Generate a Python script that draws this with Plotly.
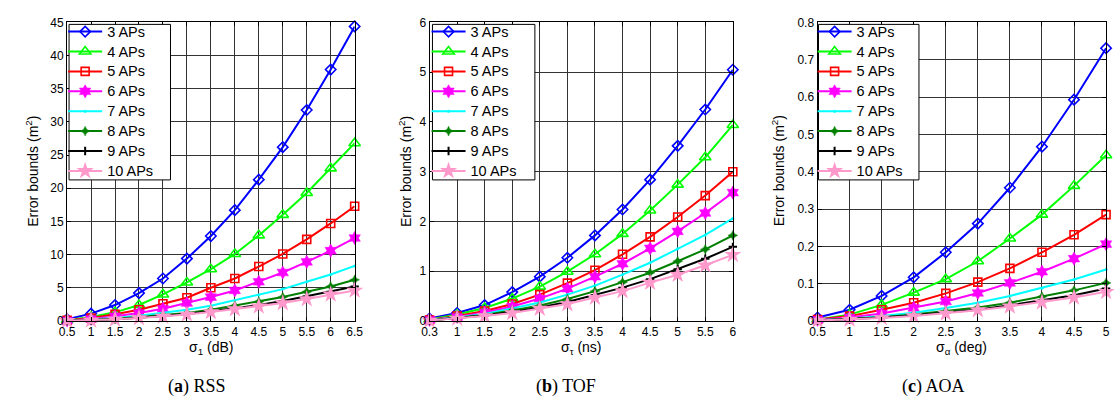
import plotly.graph_objects as go

# x categories for each panel
rss_sigma = ["0.5", "1", "1.5", "2", "2.5", "3", "3.5", "4", "4.5", "5", "5.5", "6", "6.5"]
tof_sigma = ["0.3", "1", "1.5", "2", "2.5", "3", "3.5", "4", "4.5", "5", "5.5", "6"]
aoa_sigma = ["0.5", "1", "1.5", "2", "2.5", "3", "3.5", "4", "4.5", "5"]

series_names = ["3 APs", "4 APs", "5 APs", "6 APs", "7 APs", "8 APs", "9 APs", "10 APs"]

# (a) RSS error bounds (m^2)
rss_3 = [0.25, 1.1, 2.4, 4.2, 6.4, 9.4, 12.8, 16.7, 21.3, 26.2, 31.8, 37.9, 44.4]
rss_4 = [0.15, 0.6, 1.3, 2.4, 4.0, 5.8, 7.8, 10.1, 12.9, 16.0, 19.3, 23.0, 26.8]
rss_5 = [0.1, 0.45, 1.0, 1.7, 2.6, 3.5, 5.0, 6.4, 8.2, 10.1, 12.3, 14.7, 17.3]
rss_6 = [0.07, 0.3, 0.7, 1.2, 1.85, 2.7, 3.6, 4.6, 5.9, 7.3, 8.9, 10.6, 12.5]
rss_7 = [0.05, 0.2, 0.45, 0.8, 1.2, 1.7, 2.3, 3.1, 3.9, 4.8, 5.9, 7.0, 8.3]
rss_8 = [0.04, 0.15, 0.33, 0.6, 0.9, 1.2, 1.7, 2.3, 2.9, 3.6, 4.4, 5.2, 6.2]
rss_9 = [0.03, 0.12, 0.27, 0.47, 0.75, 1.05, 1.45, 1.9, 2.4, 3.0, 3.7, 4.4, 5.2]
rss_10 = [0.03, 0.1, 0.25, 0.43, 0.68, 0.98, 1.35, 1.8, 2.2, 2.7, 3.3, 4.0, 4.6]

# (b) TOF error bounds (m^2)
tof_3 = [0.05, 0.16, 0.32, 0.58, 0.89, 1.27, 1.72, 2.24, 2.84, 3.52, 4.25, 5.05]
tof_4 = [0.03, 0.13, 0.26, 0.45, 0.69, 0.99, 1.34, 1.75, 2.22, 2.74, 3.29, 3.94]
tof_5 = [0.02, 0.1, 0.2, 0.34, 0.53, 0.76, 1.02, 1.34, 1.69, 2.09, 2.52, 3.0]
tof_6 = [0.02, 0.08, 0.17, 0.29, 0.45, 0.65, 0.89, 1.15, 1.46, 1.8, 2.17, 2.58]
tof_7 = [0.02, 0.07, 0.14, 0.25, 0.37, 0.53, 0.71, 0.93, 1.17, 1.45, 1.73, 2.06]
tof_8 = [0.01, 0.06, 0.12, 0.21, 0.31, 0.44, 0.6, 0.78, 0.97, 1.2, 1.44, 1.72]
tof_9 = [0.01, 0.06, 0.11, 0.18, 0.27, 0.38, 0.52, 0.67, 0.84, 1.04, 1.25, 1.49]
tof_10 = [0.01, 0.05, 0.1, 0.16, 0.25, 0.34, 0.47, 0.6, 0.77, 0.93, 1.12, 1.33]

# (c) AOA error bounds (m^2)
aoa_3 = [0.009, 0.03, 0.067, 0.117, 0.184, 0.261, 0.357, 0.467, 0.593, 0.731]
aoa_4 = [0.004, 0.017, 0.043, 0.076, 0.112, 0.16, 0.221, 0.285, 0.362, 0.444]
aoa_5 = [0.004, 0.013, 0.03, 0.049, 0.074, 0.104, 0.141, 0.184, 0.231, 0.285]
aoa_6 = [0.003, 0.009, 0.02, 0.035, 0.052, 0.075, 0.102, 0.132, 0.167, 0.206]
aoa_7 = [0.002, 0.006, 0.013, 0.022, 0.035, 0.049, 0.067, 0.088, 0.111, 0.138]
aoa_8 = [0.002, 0.006, 0.01, 0.017, 0.026, 0.036, 0.049, 0.065, 0.082, 0.102]
aoa_9 = [0.001, 0.004, 0.009, 0.015, 0.022, 0.03, 0.042, 0.055, 0.069, 0.087]
aoa_10 = [0.001, 0.004, 0.008, 0.013, 0.02, 0.029, 0.039, 0.05, 0.063, 0.078]

# line colour and marker style per AP count
styles = [
    dict(color="#0000ff", symbol="diamond-open", size=8, mlw=1.6),
    dict(color="#00ff00", symbol="triangle-up-open", size=10, mlw=1.6),
    dict(color="#ff0000", symbol="square-open", size=8, mlw=1.6),
    dict(color="#ff00ff", symbol="hexagram", size=10, mlw=0.5),
    dict(color="#00ffff", symbol="circle", size=3, mlw=0),
    dict(color="#008000", symbol="star-diamond", size=7, mlw=0.5),
    dict(color="#000000", symbol="cross-thin-open", size=6, mlw=2),
    dict(color="#ff99cc", symbol="star", size=13, mlw=0),
]

W, H = 1120, 412
FONT = "Liberation Sans, Arial, sans-serif"

panels = [
    dict(x=rss_sigma, ys=[rss_3, rss_4, rss_5, rss_6, rss_7, rss_8, rss_9, rss_10],
         px=(60, 352), yrange=[0, 45], dtick=5, box=(62, 165),
         xtitle="σ<sub>1</sub> (dB)", caption="(<b>a</b>) RSS", cap_x=192, ylab_x=25),
    dict(x=tof_sigma, ys=[tof_3, tof_4, tof_5, tof_6, tof_7, tof_8, tof_9, tof_10],
         px=(428, 736), yrange=[0, 6], dtick=1, box=(431, 535),
         xtitle="σ<sub>τ</sub> (ns)", caption="(<b>b</b>) TOF", cap_x=567, ylab_x=403),
    dict(x=aoa_sigma, ys=[aoa_3, aoa_4, aoa_5, aoa_6, aoa_7, aoa_8, aoa_9, aoa_10],
         px=(822, 1115), yrange=[0, 0.8], dtick=0.1, box=(823, 925),
         xtitle="σ<sub>α</sub> (deg)", caption="(<b>c</b>) AOA", cap_x=940, ylab_x=782),
]

plot_top, plot_bottom = 16, 325
box_top, box_bottom = 18, 179
ydom = [1 - plot_bottom / H, 1 - plot_top / H]

fig = go.Figure()
layout = dict(
    width=W, height=H,
    margin=dict(l=0, r=0, t=0, b=0),
    paper_bgcolor="white", plot_bgcolor="white",
    font=dict(family=FONT, size=12, color="black"),
    annotations=[], shapes=[],
)

for i, p in enumerate(panels):
    k = "" if i == 0 else str(i + 1)
    legend_id = "legend" + k
    for name, y, st in zip(series_names, p["ys"], styles):
        fig.add_trace(go.Scatter(
            x=p["x"], y=y, mode="lines+markers",
            # row spacing follows the legend font; entry text a little larger
            name=f'<span style="font-size:14.5px">{name}</span>',
            xaxis="x" + k, yaxis="y" + k, legend=legend_id,
            cliponaxis=False,
            line=dict(color=st["color"], width=2),
            marker=dict(symbol=st["symbol"], size=st["size"], color=st["color"],
                        line=dict(color=st["color"], width=st["mlw"])),
        ))
    x0, x1 = p["px"]
    axis_common = dict(
        showline=True, linecolor="black", linewidth=1, mirror="ticks",
        ticks="inside", ticklen=4, tickcolor="black",
        showgrid=True, gridcolor="#333333", gridwidth=1,
        zeroline=False, tickfont=dict(family=FONT, size=12, color="black"),
    )
    layout["xaxis" + k] = dict(
        axis_common, domain=[x0 / W, x1 / W], anchor="y" + k,
        type="category", range=[0, len(p["x"]) - 1],
    )
    layout["yaxis" + k] = dict(
        axis_common, domain=ydom, anchor="x" + k,
        range=p["yrange"], dtick=p["dtick"], tick0=0,
    )
    # framed white legend panel, entries laid over it
    bx0, bx1 = p["box"]
    layout["shapes"].append(dict(
        type="rect", xref="paper", yref="paper", layer="above",
        x0=bx0 / W, x1=bx1 / W, y0=1 - box_bottom / H, y1=1 - box_top / H,
        fillcolor="white", line=dict(color="black", width=1),
    ))
    layout[legend_id] = dict(
        x=(bx0 - 6) / W, y=1 - (box_top - 8) / H, xanchor="left", yanchor="top",
        bgcolor="rgba(0,0,0,0)", borderwidth=0,
        font=dict(family=FONT, size=13, color="black"),
        itemwidth=34, tracegroupgap=0,
    )
    cx = (x0 + x1) / 2
    layout["annotations"] += [
        dict(text=p["xtitle"], x=cx / W, y=1 - 353 / H, xref="paper", yref="paper",
             showarrow=False, xanchor="center", yanchor="middle",
             font=dict(family=FONT, size=14)),
        dict(text="Error bounds (m<sup>2</sup>)", x=p["ylab_x"] / W, y=1 - 170 / H,
             xref="paper", yref="paper", showarrow=False, textangle=-90,
             xanchor="center", yanchor="middle", font=dict(family=FONT, size=14)),
        dict(text=p["caption"], x=p["cap_x"] / W, y=1 - 393 / H, xref="paper", yref="paper",
             showarrow=False, xanchor="center", yanchor="middle",
             font=dict(family="Liberation Serif, DejaVu Serif, serif", size=18)),
    ]

fig.update_layout(**layout)
fig.write_html("out.html")
